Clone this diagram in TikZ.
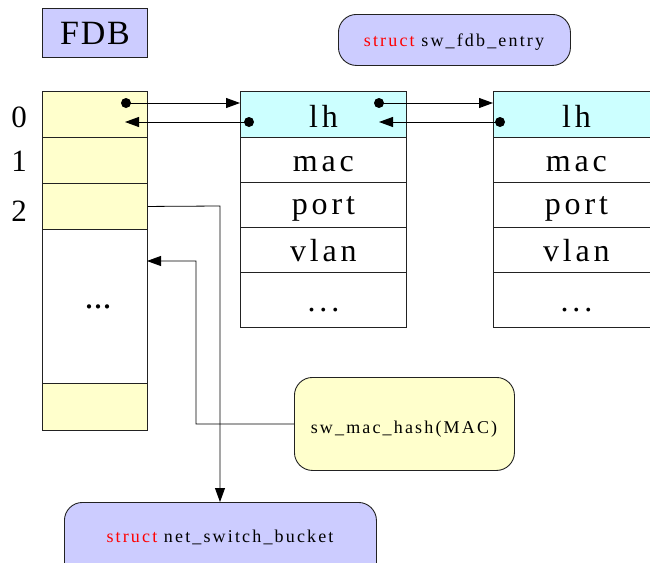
\documentclass[tikz,border=0pt]{standalone}
\usepackage{fontspec}
\setmainfont{Liberation Serif}
\newfontfamily\spaced[LetterSpace=12]{Liberation Serif}
\newfontfamily\smallspaced[LetterSpace=12]{Liberation Serif}
\usetikzlibrary{arrows.meta}
\definecolor{fdbblue}{HTML}{CCCCFF}
\definecolor{cellyellow}{HTML}{FFFFCC}
\definecolor{headcyan}{HTML}{CCFFFF}
\definecolor{kwred}{HTML}{FF0000}
\definecolor{edge}{HTML}{222222}

\begin{document}
\begin{tikzpicture}[x=1pt,y=-1pt,
  cell/.style={draw=edge, line width=0.9pt, inner sep=0pt, anchor=north west,
    text height=24pt, text depth=0pt,
    font=\spaced\fontsize{32}{32}\selectfont},
  roundbox/.style={draw=edge, line width=0.9pt, rounded corners=18pt, inner sep=0pt,
    anchor=north west},
  smalltext/.style={anchor=base, font=\smallspaced\fontsize{18}{18}\selectfont},
  idx/.style={anchor=base, font=\fontsize{31}{31}\selectfont},
  link/.style={line width=0.9pt, -{Triangle[length=14pt,width=10pt]}},
  route/.style={line width=0.8pt, draw=black, -{Triangle[length=14pt,width=10pt]}},
  dot/.style={circle, fill=black, inner sep=0pt, minimum size=10pt}
]
\clip (0,0) rectangle (650,562);
\fill[white] (0,0) rectangle (650,562);

% title box
\node[cell, fill=fdbblue, minimum width=105pt, minimum height=49pt,
  text height=23pt, font=\fontsize{34}{34}\selectfont\addfontfeatures{LetterSpace=5}] (fdb) at (42,8) {FDB};

% hash table buckets
\node[cell, fill=cellyellow, minimum width=105pt, minimum height=46pt] (b0) at (42,91) {};
\node[cell, fill=cellyellow, minimum width=105pt, minimum height=46pt] (b1) at (42,137) {};
\node[cell, fill=cellyellow, minimum width=105pt, minimum height=46pt] (b2) at (42,183) {};
\node[cell, fill=white, minimum width=105pt, minimum height=154pt] (bmid) at (42,229) {};
\node[anchor=base, font=\fontsize{36}{36}\selectfont] (bdots) at (98,308) {...};
\node[cell, fill=cellyellow, minimum width=105pt, minimum height=47pt] (blast) at (42,383) {};

\node[idx] (i0) at (19,127) {0};
\node[idx] (i1) at (19,171) {1};
\node[idx] (i2) at (19,221) {2};

% first entry
\node[cell, fill=headcyan, minimum width=166pt, minimum height=46pt, text height=27pt] (e1lh) at (240,91) {lh};
\node[cell, fill=white, minimum width=166pt, minimum height=45pt] (e1mac) at (240,137) {mac};
\node[cell, fill=white, minimum width=166pt, minimum height=45pt, text height=20pt] (e1port) at (240,182) {port};
\node[cell, fill=white, minimum width=166pt, minimum height=45pt] (e1vlan) at (240,227) {vlan};
\node[cell, fill=white, minimum width=166pt, minimum height=55pt] (e1rest) at (240,272) {...};

% second entry
\node[cell, fill=headcyan, minimum width=166pt, minimum height=46pt, text height=27pt] (e2lh) at (493,91) {lh};
\node[cell, fill=white, minimum width=166pt, minimum height=45pt] (e2mac) at (493,137) {mac};
\node[cell, fill=white, minimum width=166pt, minimum height=45pt, text height=20pt] (e2port) at (493,182) {port};
\node[cell, fill=white, minimum width=166pt, minimum height=45pt] (e2vlan) at (493,227) {vlan};
\node[cell, fill=white, minimum width=166pt, minimum height=55pt] (e2rest) at (493,272) {...};

% rounded label boxes
\node[roundbox, fill=fdbblue, minimum width=232pt, minimum height=51pt] (entrylbl) at (338,14) {};
\node[smalltext] (entrytxt) at (454,46) {\textcolor{kwred}{struct} sw\_fdb\_entry};
\node[roundbox, fill=cellyellow, minimum width=220pt, minimum height=93pt] (hash) at (294,377) {};
\node[smalltext] (hashtxt) at (404,433) {sw\_mac\_hash(MAC)};
\node[roundbox, fill=fdbblue, minimum width=312pt, minimum height=80pt] (bucket) at (64,502) {};
\node[smalltext] (buckettxt) at (220,542) {\textcolor{kwred}{struct} net\_switch\_bucket};

% list pointers
\coordinate (b0n) at (126,103);
\coordinate (b0p) at (125,122);
\coordinate (e1n) at (379,103);
\coordinate (e1p) at (249,122);
\coordinate (e1pin) at (379,122);
\coordinate (e2p) at (500,122);
\node[dot] (d0) at (b0n) {};
\node[dot] (d1) at (e1p) {};
\node[dot] (d2) at (e1n) {};
\node[dot] (d3) at (e2p) {};
\draw[link] (d0.center) -- (e1lh.west |- d0);
\draw[link] (d1.center) -- (b0p);
\draw[link] (d2.center) -- (e2lh.west |- d2);
\draw[link] (d3.center) -- (e1pin);

% routing lines
\coordinate (r1) at (220,206);
\coordinate (r2) at (196,424);
\coordinate (r3) at (196,261);
\coordinate (r4) at (147,261);
\draw[route] (b2.east) -- (r1) -- (bucket.north -| r1);
\draw[route] (hash.west) -- (r2) -- (r3) -- (r4);
\end{tikzpicture}
\end{document}
